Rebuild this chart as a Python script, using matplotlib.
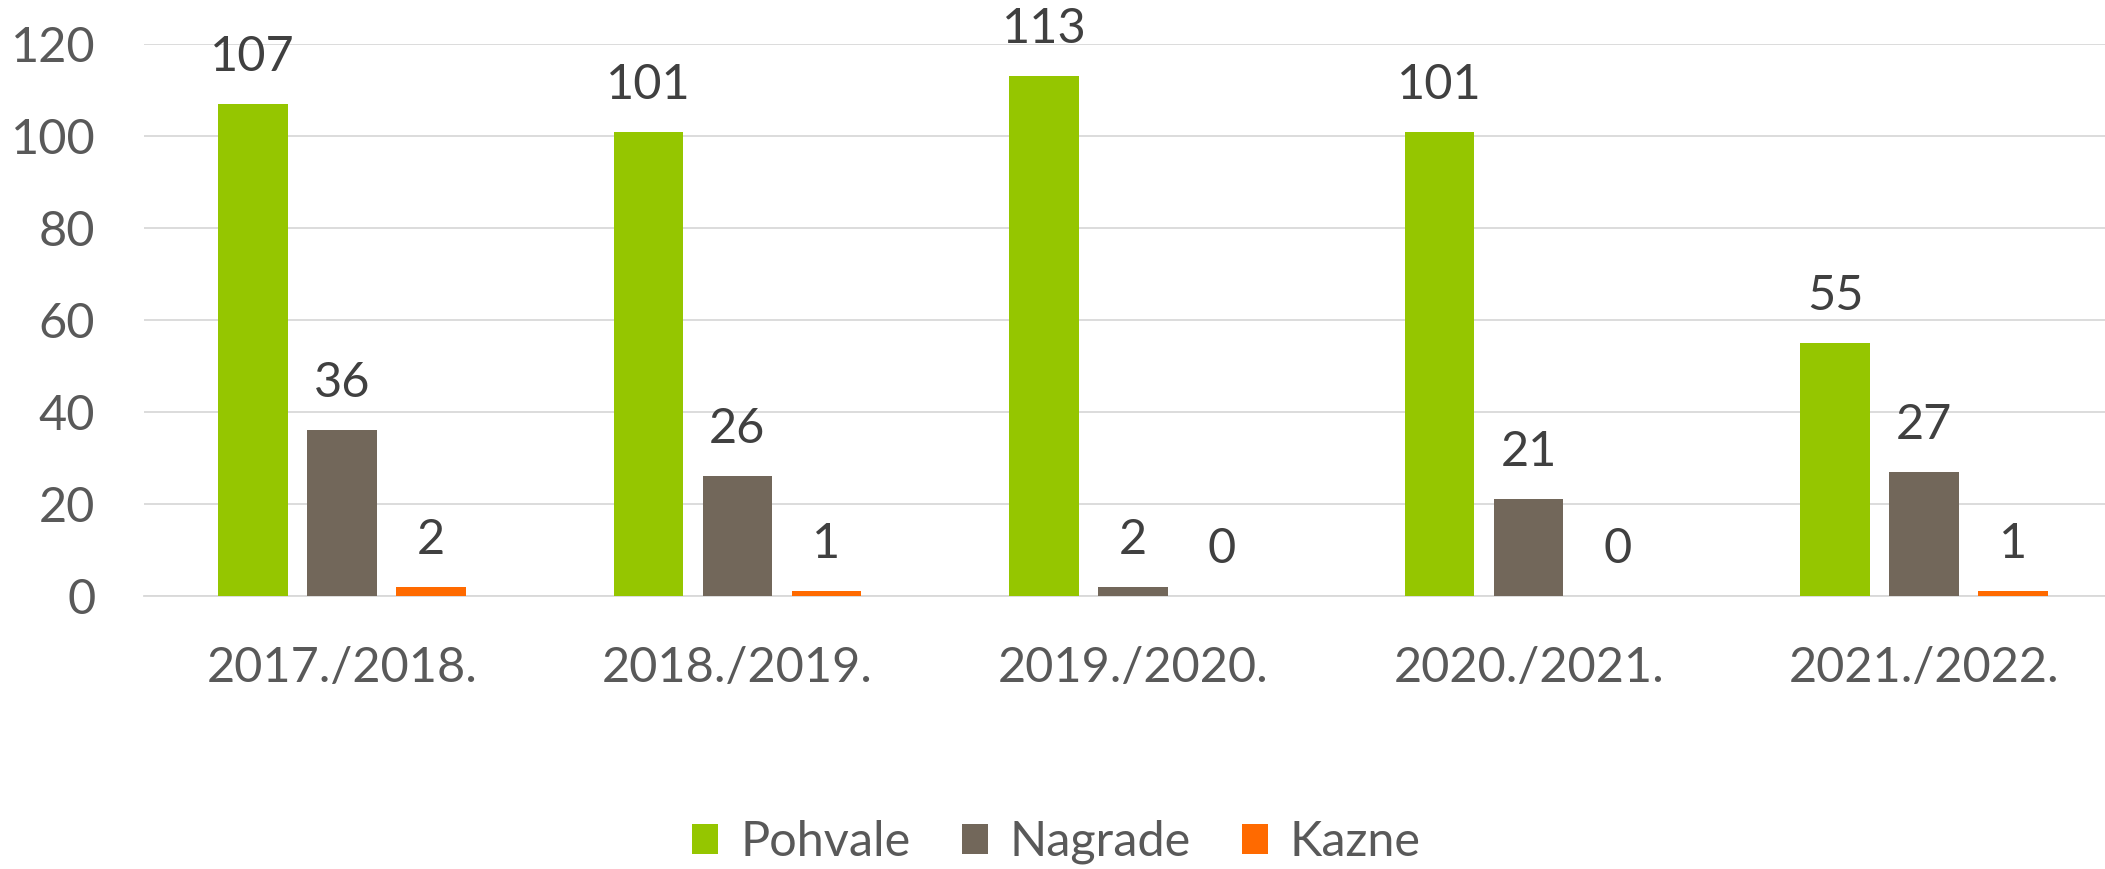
import matplotlib.pyplot as plt
import numpy as np
from matplotlib.patches import Patch

plt.rcParams['font.family'] = ['Lato', 'DejaVu Sans']

# podaci
godine = ["2017./2018.", "2018./2019.", "2019./2020.", "2020./2021.", "2021./2022."]
pohvale = [107, 101, 113, 101, 55]
nagrade = [36, 26, 2, 21, 27]
kazne = [2, 1, 0, 0, 1]

serije = [("Pohvale", pohvale, "#95C600"),
          ("Nagrade", nagrade, "#72675A"),
          ("Kazne", kazne, "#FF6A00")]

fig = plt.figure(figsize=(21.05, 8.69), dpi=100)
ax = fig.add_axes([0.0684, 0.3142, 0.9397, 0.6348])

x = np.arange(len(godine))
sirina = 0.176
korak = 0.225

for i, (ime, vrijednosti, boja) in enumerate(serije):
    pomak = (i - 1) * korak
    bars = ax.bar(x + pomak, vrijednosti, width=sirina, color=boja, zorder=3)
    for b, v in zip(bars, vrijednosti):
        ax.annotate(str(v), (b.get_x() + b.get_width() / 2, v),
                    xytext=(0, 18), textcoords="offset points",
                    ha="center", va="bottom", fontsize=35, color="#404040")

ax.set_xlim(-0.5, len(godine) - 0.5)
ax.set_ylim(0, 120)
ax.set_yticks(range(0, 121, 20))
ax.set_xticks(x)
ax.set_xticklabels(godine)
ax.tick_params(axis="y", length=0, pad=35, labelsize=35, labelcolor="#595959")
ax.tick_params(axis="x", length=0, pad=36, labelsize=35, labelcolor="#595959")
ax.grid(axis="y", color="#D9D9D9", linewidth=1.3, zorder=0)
for s in ["top", "right", "left"]:
    ax.spines[s].set_visible(False)
ax.spines["bottom"].set_color("#D9D9D9")
ax.spines["bottom"].set_linewidth(1.3)

handles = [Patch(facecolor=boja, label=ime) for ime, _, boja in serije]
fig.legend(handles=handles, loc="center", bbox_to_anchor=(0.502, 1 - 842 / 869),
           ncol=3, frameon=False, fontsize=35, labelcolor="#595959",
           handlelength=0.53, handleheight=0.57, handletextpad=0.45,
           columnspacing=1.06)

fig.savefig("out.png", dpi=100)
